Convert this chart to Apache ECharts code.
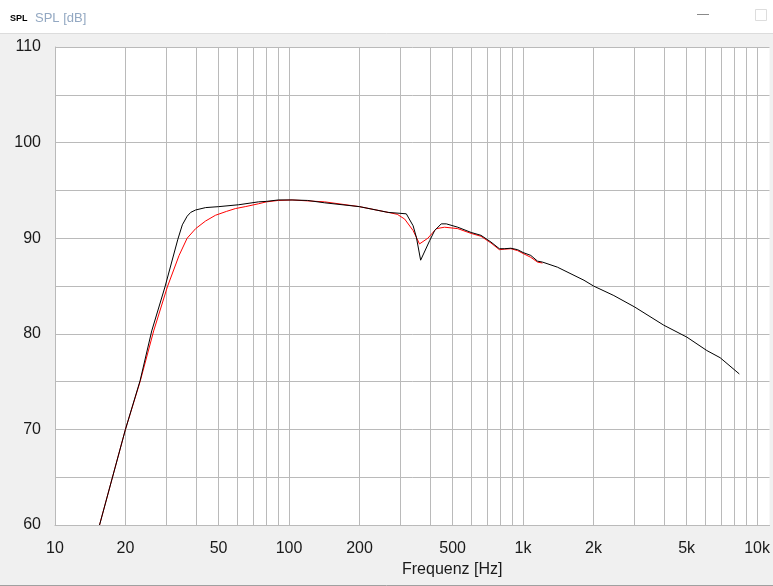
<!DOCTYPE html>
<html><head><meta charset="utf-8">
<script src="https://cdn.jsdelivr.net/npm/echarts@6/dist/echarts.min.js"></script>
<style>html,body{margin:0;padding:0;background:#f0f0f0;}#c{width:773px;height:586px;}</style>
</head><body><div id="c"></div>
<script>
// Black curve (frequency in Hz, SPL in dB)
const freqBlack = [15.5, 20, 23.1, 25.9, 29.5, 33.5, 35, 36.7, 38, 39.9, 44, 50, 61, 74, 80, 90, 103, 120, 142, 200, 265, 317, 339, 350, 365, 399, 419, 447, 470, 526, 600, 661, 729, 792, 831, 887, 948, 1000, 1079, 1153, 1211, 1402, 1821, 2000, 2443, 3000, 3992, 5012, 6097, 6950, 8395];
const splBlack  = [60, 70, 75.1, 80.3, 84.9, 89.9, 91.4, 92.3, 92.7, 92.95, 93.2, 93.3, 93.5, 93.8, 93.85, 94.0, 94.0, 93.95, 93.7, 93.3, 92.7, 92.55, 91.3, 90.1, 87.7, 89.75, 90.8, 91.5, 91.5, 91.15, 90.6, 90.3, 89.6, 88.9, 88.9, 88.95, 88.8, 88.5, 88.2, 87.6, 87.5, 86.97, 85.6, 85.0, 84.0, 82.8, 80.9, 79.65, 78.25, 77.5, 75.8];
// Red curve
const freqRed = [15.5, 20, 23.1, 26.4, 30.2, 33.9, 36.7, 39.9, 44, 48.5, 54, 59, 65, 74, 80, 90, 103, 142, 200, 265, 290, 312, 339, 361, 392, 426, 462, 526, 600, 661, 729, 792, 831, 887, 948, 1000, 1079, 1153, 1211];
const splRed  = [60, 70, 75.0, 80.3, 84.9, 88.2, 90.0, 91.0, 91.8, 92.4, 92.8, 93.1, 93.3, 93.6, 93.8, 93.95, 94.0, 93.8, 93.3, 92.7, 92.5, 92.0, 90.8, 89.4, 90.0, 91.0, 91.15, 91.0, 90.5, 90.2, 89.5, 88.8, 88.85, 88.9, 88.7, 88.4, 88.0, 87.5, 87.4];
// Axis ticks
const gridFreqs = [10,20,30,40,50,60,70,80,90,100,200,300,400,500,600,700,800,900,1000,2000,3000,4000,5000,6000,7000,8000,9000,10000];
const labelFreqs = [10,20,50,100,200,500,1000,2000,5000,10000];
const yLabels = [60,70,80,90,100,110];

const chart = echarts.init(document.getElementById('c'), null, {renderer:'canvas'});
const gridColor = '#bababa';
const font = 'Liberation Sans, Arial, sans-serif';
chart.setOption({
  animation: false,
  backgroundColor: '#f0f0f0',
  title: [
    {text: 'SPL', left: 5, top: 9, textStyle: {fontSize: 9, fontWeight: 'bold', color: '#000', fontFamily: font}},
    {text: 'SPL [dB]', left: 30, top: 7, textStyle: {fontSize: 13, fontWeight: 'normal', color: '#93a8c2', fontFamily: font}}
  ],
  graphic: [
    {type: 'rect', shape: {x: 0, y: 0, width: 773, height: 33}, style: {fill: '#ffffff'}, z: -10},
    {type: 'line', shape: {x1: 0, y1: 33.5, x2: 773, y2: 33.5}, style: {stroke: '#dcdcdc', lineWidth: 1}},
    {type: 'line', shape: {x1: 697, y1: 14.5, x2: 709, y2: 14.5}, style: {stroke: '#8a8a8a', lineWidth: 1}},
    {type: 'rect', shape: {x: 755.5, y: 9.5, width: 11, height: 11}, style: {fill: 'none', stroke: '#dddddd', lineWidth: 1}},
    {type: 'line', shape: {x1: 0, y1: 585.5, x2: 773, y2: 585.5}, style: {stroke: '#a0a0a0', lineWidth: 1}}
  ],
  grid: {left: 55, right: 0, top: 47, bottom: 61, show: true, backgroundColor: '#ffffff', borderWidth: 0},
  xAxis: {
    type: 'log', logBase: 10, min: 10, max: 11300,
    name: 'Frequenz [Hz]', nameLocation: 'middle', nameGap: 35,
    nameTextStyle: {fontSize: 16, color: '#1a1a1a', fontFamily: font, padding: [0, 0, 0, 80]},
    axisLine: {show: true, lineStyle: {color: gridColor, width: 1}},
    axisTick: {show: false, customValues: gridFreqs},
    axisLabel: {customValues: labelFreqs, margin: 16, fontSize: 16, color: '#1a1a1a', fontFamily: font,
      formatter: v => v >= 1000 ? (v/1000) + 'k' : String(v)},
    splitLine: {show: true, lineStyle: {color: gridColor, width: 1}},
    minorSplitLine: {show: false}
  },
  yAxis: {
    type: 'value', min: 60, max: 110, interval: 5,
    axisLine: {show: true, lineStyle: {color: gridColor, width: 1}},
    axisTick: {show: false},
    axisLabel: {margin: 14, fontSize: 16, color: '#1a1a1a', fontFamily: font,
      formatter: v => yLabels.indexOf(v) >= 0 ? String(v) : ''},
    splitLine: {show: true, lineStyle: {color: gridColor, width: 1}}
  },
  series: [
    {type: 'line', data: freqRed.map((f, i) => [f, splRed[i]]), showSymbol: false, symbol: 'none',
      lineStyle: {color: '#ff0000', width: 1}, z: 2},
    {type: 'line', data: freqBlack.map((f, i) => [f, splBlack[i]]), showSymbol: false, symbol: 'none',
      lineStyle: {color: '#000000', width: 1}, z: 3}
  ]
});
</script></body></html>
